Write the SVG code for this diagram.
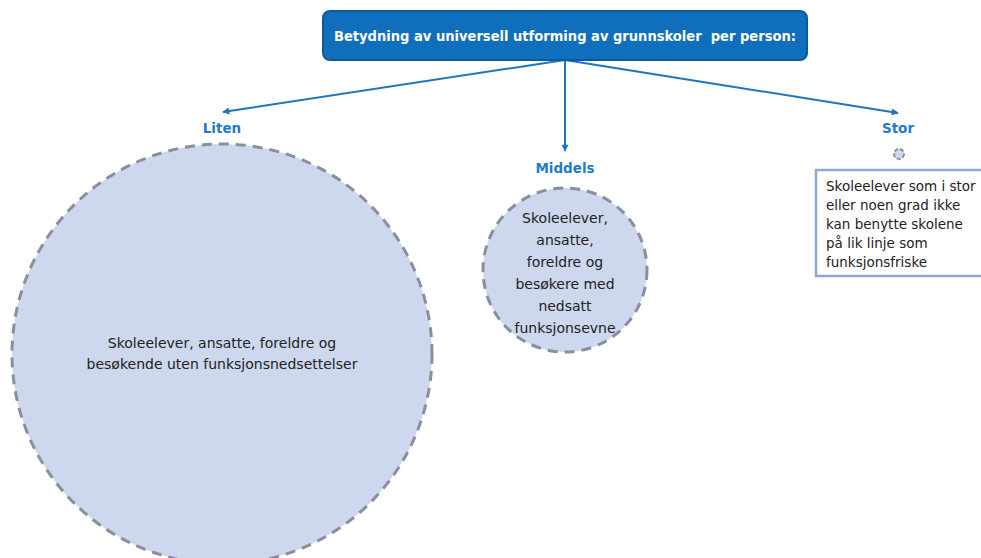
<svg xmlns="http://www.w3.org/2000/svg" width="981" height="558" viewBox="0 0 981 558">
<defs>
<marker id="ah" viewBox="0 0 10 10" refX="9" refY="5" markerWidth="9" markerHeight="7" orient="auto" markerUnits="userSpaceOnUse"><path d="M0,0 L10,5 L0,10 z" fill="#1F74C2"/></marker>
</defs>
<style>
.conn{stroke:#1F74C2;stroke-width:2;fill:none;marker-end:url(#ah)}
.lbl{font-family:"DejaVu Sans",sans-serif;font-weight:bold;font-size:13.5px;fill:#1F7BC8;text-anchor:middle}
.circ{fill:#CDD7EE;stroke:#8A8F9C;stroke-width:3;stroke-dasharray:10 7}
.txt{font-family:"DejaVu Sans",sans-serif;font-size:14px;fill:#222;text-anchor:middle}
.box{font-family:"DejaVu Sans",sans-serif;font-size:13.5px;fill:#222}
</style>
<rect width="981" height="558" fill="#fff"/>
<g id="connectors">
<line class="conn" x1="565" y1="60" x2="223" y2="112"/>
<line class="conn" x1="565" y1="60" x2="565" y2="151"/>
<line class="conn" x1="565" y1="60" x2="898" y2="113"/>
</g>
<g id="title">
<rect x="323" y="11" width="484" height="49" rx="7" fill="#0F6FBD" stroke="#0B5A9A" stroke-width="2"/>
<text x="565" y="41" font-family="DejaVu Sans, sans-serif" font-weight="bold" font-size="13.5" fill="#fff" text-anchor="middle" textLength="462" lengthAdjust="spacingAndGlyphs">Betydning av universell utforming av grunnskoler&#160; per person:</text>
</g>
<g id="liten">
<text class="lbl" x="222" y="133">Liten</text>
<circle class="circ" cx="222" cy="354" r="210"/>
<text class="txt" x="222" y="348">Skoleelever, ansatte, foreldre og</text>
<text class="txt" x="222" y="369">besøkende uten funksjonsnedsettelser</text>
</g>
<g id="middels">
<text class="lbl" x="565" y="173">Middels</text>
<circle class="circ" cx="565" cy="270" r="82"/>
<text class="txt" x="565" y="223">Skoleelever,</text>
<text class="txt" x="565" y="245">ansatte,</text>
<text class="txt" x="565" y="267">foreldre og</text>
<text class="txt" x="565" y="289">besøkere med</text>
<text class="txt" x="565" y="311">nedsatt</text>
<text class="txt" x="565" y="333">funksjonsevne</text>
</g>
<g id="stor">
<text class="lbl" x="898" y="133">Stor</text>
<circle cx="899" cy="154" r="5" fill="#CDD7EE" stroke="#8A8F9C" stroke-width="2" stroke-dasharray="4 2"/>
<rect x="816" y="170" width="170" height="106" fill="#fff" stroke="#8EA6D8" stroke-width="2.5"/>
<text class="box" x="826" y="191">Skoleelever som i stor</text>
<text class="box" x="826" y="210">eller noen grad ikke</text>
<text class="box" x="826" y="229">kan benytte skolene</text>
<text class="box" x="826" y="248">på lik linje som</text>
<text class="box" x="826" y="267">funksjonsfriske</text>
</g>
</svg>
